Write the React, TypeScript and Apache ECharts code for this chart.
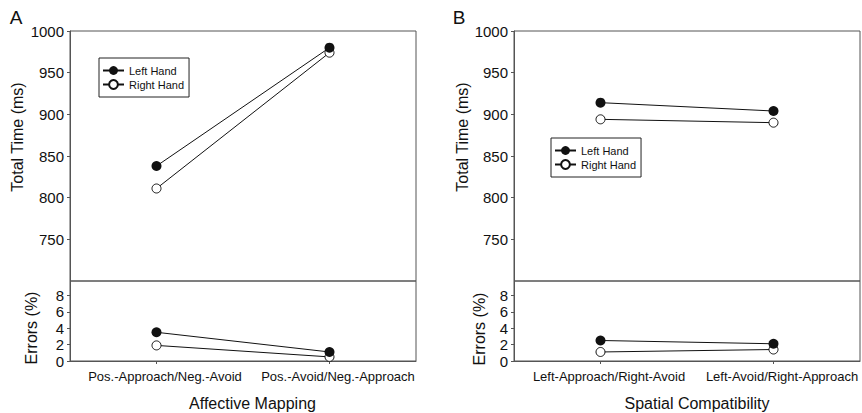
import React, { useEffect, useRef } from 'react';
import * as echarts from 'echarts';

const categoriesA = ['Pos.-Approach/Neg.-Avoid', 'Pos.-Avoid/Neg.-Approach'];
const categoriesB = ['Left-Approach/Right-Avoid', 'Left-Avoid/Right-Approach'];
const seriesNames = ['Left Hand', 'Right Hand'];
const timeA_left = [838, 980];
const timeA_right = [811, 974];
const errA_left = [3.5, 1.1];
const errA_right = [1.9, 0.5];
const timeB_left = [914, 904];
const timeB_right = [894, 890];
const errB_left = [2.5, 2.1];
const errB_right = [1.1, 1.4];
const timeTicks = [750, 800, 850, 900, 950, 1000];
const errorTicks = [0, 2, 4, 6, 8];

const FONT = 'Liberation Sans, Arial, Helvetica, sans-serif';
const FRAME = '#555555';
const INK = '#111111';

function makeXAxis(gridIndex: number, data: string[], bottom: boolean) {
  if (!bottom) {
    return { type: 'category', gridIndex, data, show: false };
  }
  return {
    type: 'category',
    gridIndex,
    data,
    axisLine: { show: true, lineStyle: { color: FRAME, width: 1 } },
    axisTick: { show: true, alignWithLabel: true, length: 3, lineStyle: { color: FRAME } },
    axisLabel: {
      interval: 0,
      fontSize: 13,
      color: INK,
      margin: 9,
      fontFamily: FONT,
      padding: [0, 0, 0, 17],
    },
    splitLine: { show: false },
  };
}

function makeYAxis(gridIndex: number, top: boolean) {
  const ticks = top ? timeTicks : errorTicks;
  return {
    type: 'value',
    gridIndex,
    min: top ? 700 : 0,
    max: top ? 1000 : 9.75,
    interval: top ? 50 : 2,
    axisLine: { show: true, lineStyle: { color: FRAME, width: 1 } },
    axisTick: { show: true, length: 3, lineStyle: { color: FRAME }, customValues: ticks },
    axisLabel: {
      fontSize: 15,
      color: INK,
      margin: 6,
      fontFamily: FONT,
      customValues: ticks,
      formatter: (v: number) => String(v),
    },
    splitLine: { show: false },
  };
}

function makeSeries(name: string, idx: number, data: number[]) {
  const filled = name === seriesNames[0];
  return {
    type: 'line',
    name,
    xAxisIndex: idx,
    yAxisIndex: idx,
    data,
    symbol: 'circle',
    symbolSize: filled ? 10 : 9,
    itemStyle: filled
      ? { color: INK }
      : { color: '#ffffff', borderColor: INK, borderWidth: 1 },
    lineStyle: { color: INK, width: 1 },
    emphasis: { disabled: true },
    z: filled ? 3 : 2,
  };
}

function makeLegend(left: number, top: number) {
  return {
    data: seriesNames,
    orient: 'vertical',
    left,
    top,
    itemWidth: 21,
    itemHeight: 11,
    itemGap: 3,
    padding: [7, 5, 7, 3],
    borderColor: '#222',
    borderWidth: 1,
    backgroundColor: '#fff',
    textStyle: { fontSize: 11, color: INK, fontFamily: FONT },
    selectedMode: false,
  };
}

function rotText(text: string, x: number, y: number) {
  return {
    type: 'text',
    x,
    y,
    rotation: Math.PI / 2,
    style: { text, fontSize: 16, fill: INK, fontFamily: FONT, align: 'center', verticalAlign: 'middle' },
  };
}

function plainText(text: string, x: number, y: number, size: number) {
  return {
    type: 'text',
    x,
    y,
    style: { text, fontSize: size, fill: INK, fontFamily: FONT, align: 'center', verticalAlign: 'middle' },
  };
}

export default function App() {
  const ref = useRef<HTMLDivElement>(null);
  useEffect(() => {
    if (!ref.current) return;
    const chart = echarts.init(ref.current, undefined, { renderer: 'svg' });
    const gridStyle = { show: true, borderColor: FRAME, borderWidth: 1, backgroundColor: 'transparent' };
    chart.setOption({
      animation: false,
      textStyle: { fontFamily: FONT },
      grid: [
        { left: 70, top: 31, width: 346, height: 250, ...gridStyle },
        { left: 70, top: 281, width: 346, height: 80, ...gridStyle },
        { left: 514, top: 31, width: 346, height: 250, ...gridStyle },
        { left: 514, top: 281, width: 346, height: 80, ...gridStyle },
      ],
      xAxis: [
        makeXAxis(0, categoriesA, false),
        makeXAxis(1, categoriesA, true),
        makeXAxis(2, categoriesB, false),
        makeXAxis(3, categoriesB, true),
      ],
      yAxis: [makeYAxis(0, true), makeYAxis(1, false), makeYAxis(2, true), makeYAxis(3, false)],
      legend: [makeLegend(99, 58), makeLegend(551, 138)],
      series: [
        makeSeries(seriesNames[1], 0, timeA_right),
        makeSeries(seriesNames[0], 0, timeA_left),
        makeSeries(seriesNames[1], 1, errA_right),
        makeSeries(seriesNames[0], 1, errA_left),
        makeSeries(seriesNames[1], 2, timeB_right),
        makeSeries(seriesNames[0], 2, timeB_left),
        makeSeries(seriesNames[1], 3, errB_right),
        makeSeries(seriesNames[0], 3, errB_left),
      ],
      graphic: [
        plainText('A', 16, 17, 19),
        plainText('B', 459, 17, 19),
        rotText('Total Time (ms)', 17.5, 137),
        rotText('Errors (%)', 31.5, 328),
        rotText('Total Time (ms)', 462.5, 137),
        rotText('Errors (%)', 479, 329),
        plainText('Affective Mapping', 252.5, 403, 16),
        plainText('Spatial Compatibility', 697, 403, 16),
      ],
    });
    return () => chart.dispose();
  }, []);
  return (
    <div
      ref={ref}
      style={{ position: 'absolute', left: 0, top: 0, width: 862, height: 413, background: '#fff' }}
    />
  );
}
